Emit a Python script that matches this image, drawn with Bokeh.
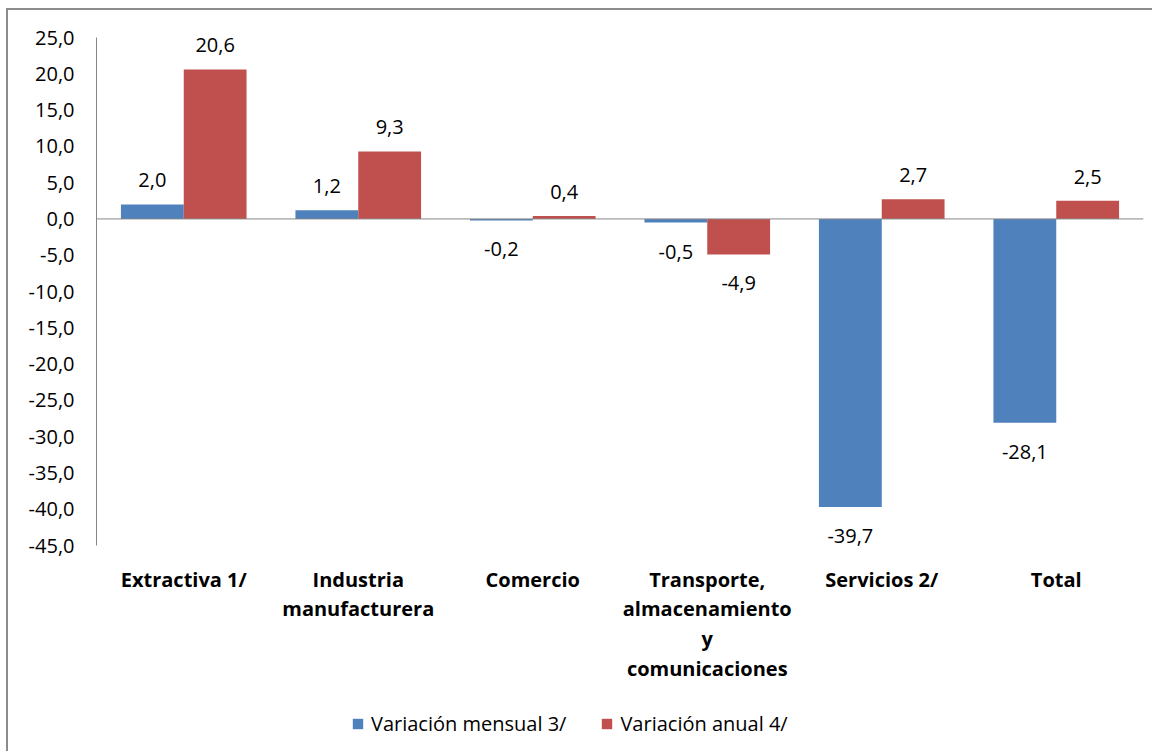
from bokeh.plotting import figure
from bokeh.models import (ColumnDataSource, FactorRange, Range1d, FixedTicker, Span,
                          Legend, LegendItem, LabelSet)
from bokeh.core.properties import value
from bokeh.transform import dodge
from bokeh.embed import file_html
from bokeh.resources import INLINE

# ---- data ----
categories = ["Extractiva 1/", "Industria\nmanufacturera", "Comercio",
              "Transporte,\nalmacenamiento\ny\ncomunicaciones", "Servicios 2/", "Total"]
mensual = [2.0, 1.2, -0.2, -0.5, -39.7, -28.1]
anual = [20.6, 9.3, 0.4, -4.9, 2.7, 2.5]
series_names = ["Variación mensual 3/", "Variación anual 4/"]
y_ticks = [-45, -40, -35, -30, -25, -20, -15, -10, -5, 0, 5, 10, 15, 20, 25]
y_tick_labels = ["-45,0", "-40,0", "-35,0", "-30,0", "-25,0", "-20,0", "-15,0", "-10,0",
                 "-5,0", "0,0", "5,0", "10,0", "15,0", "20,0", "25,0"]

BLUE = "#4F81BD"
RED = "#C0504D"
FONT = "Open Sans"

# ---- layout (pixels) ----
W, H = 1146, 743
MB_LEFT, MB_RIGHT, MB_TOP, MB_BOTTOM = 88, 11, 27, 4
AXIS_PX = 508.0            # pixel height of the -45..25 value axis
y_lo, y_hi = y_ticks[0], y_ticks[-1]
px_per_unit = AXIS_PX / (y_hi - y_lo)
frame_h = H - MB_TOP - MB_BOTTOM
y_start = y_hi - frame_h / px_per_unit


def fmt(v):
    return f"{v:.1f}".replace(".", ",")


def make_source(vals):
    return ColumnDataSource(dict(
        cat=categories, val=vals, label=[fmt(v) for v in vals],
        off=[24 if v >= 0 else -29 for v in vals]))


src_m = make_source(mensual)
src_a = make_source(anual)
src_c = ColumnDataSource(dict(cat=categories, y=[y_lo] * len(categories)))

p = figure(x_range=FactorRange(factors=categories, range_padding=0),
           y_range=Range1d(y_start, y_hi),
           width=W, height=H, output_backend="svg", toolbar_location=None,
           min_border_left=MB_LEFT, min_border_right=MB_RIGHT,
           min_border_top=MB_TOP, min_border_bottom=MB_BOTTOM)
p.styles = {"margin-left": "6px", "margin-top": "8px",
            "border-left": "2px solid #8c8c8c", "border-top": "2px solid #8c8c8c"}
p.outline_line_color = None
p.background_fill_color = "white"
p.border_fill_color = "white"
p.xgrid.visible = False
p.ygrid.visible = False
p.xaxis.visible = False

r_m = p.vbar(x=dodge("cat", -0.18, range=p.x_range), top="val", width=0.36,
             source=src_m, fill_color=BLUE, line_color=None)
r_a = p.vbar(x=dodge("cat", 0.18, range=p.x_range), top="val", width=0.36,
             source=src_a, fill_color=RED, line_color=None)

p.add_layout(Span(location=0, dimension="width", line_color="#868686", line_width=1))

for src, dx in ((src_m, -0.18), (src_a, 0.18)):
    p.add_layout(LabelSet(x=dodge("cat", dx, range=p.x_range), y="val", text="label",
                          y_offset="off", source=src, text_align="center",
                          text_baseline="middle", text_font=value(FONT),
                          text_font_size="20px", text_color="#000000"))

# category labels below the value axis
p.text(x="cat", y="y", text="cat", source=src_c, y_offset=20,
       text_align="center", text_baseline="top", text_font=value(FONT),
       text_font_style="bold", text_font_size="20px", text_line_height=1.1,
       text_color="#000000")

# y axis
yax = p.yaxis[0]
yax.ticker = FixedTicker(ticks=y_ticks)
yax.bounds = (y_lo, y_hi)
yax.major_label_overrides = {t: l for t, l in zip(y_ticks, y_tick_labels)}
yax.axis_line_color = "#868686"
yax.major_tick_line_color = None
yax.minor_tick_line_color = None
yax.major_tick_out = 0
yax.major_tick_in = 0
yax.minor_tick_out = 0
yax.major_label_standoff = 22
yax.major_label_text_font = FONT
yax.major_label_text_font_size = "20px"
yax.major_label_text_color = "#000000"

legend = Legend(items=[LegendItem(label=series_names[0], renderers=[r_m]),
                       LegendItem(label=series_names[1], renderers=[r_a])],
                location=(255, 12), orientation="horizontal",
                glyph_width=13, glyph_height=13, label_standoff=7, spacing=34,
                padding=0, margin=0, border_line_color=None,
                background_fill_alpha=0, label_text_font=FONT,
                label_text_font_size="20px", label_text_color="#000000")
p.add_layout(legend, "center")

open("out.html", "w").write(file_html(p, INLINE))
